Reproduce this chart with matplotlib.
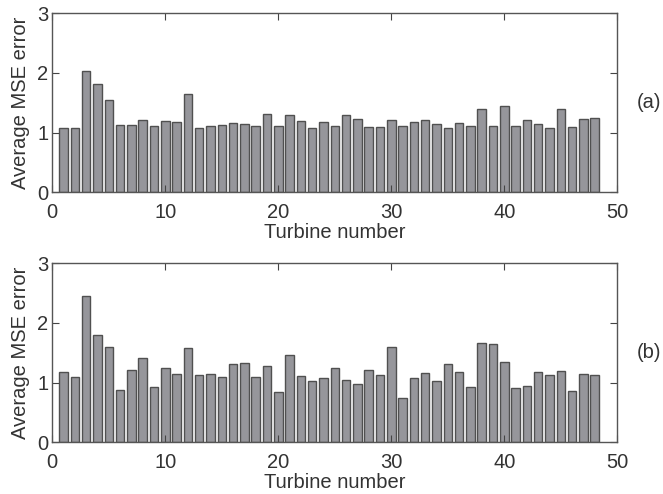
import matplotlib
matplotlib.use('Agg')
import matplotlib.pyplot as plt
import numpy as np

plt.rcParams['font.family'] = ['Liberation Sans', 'DejaVu Sans']
plt.rcParams['font.size'] = 14.5

# turbine numbers
turbines = np.arange(1, 49)

# average MSE error, panel (a)
mse_a = [1.08, 1.07, 2.04, 1.82, 1.54, 1.12, 1.12, 1.22, 1.11, 1.19,
         1.18, 1.65, 1.08, 1.11, 1.12, 1.16, 1.14, 1.11, 1.32, 1.11,
         1.29, 1.20, 1.08, 1.17, 1.11, 1.29, 1.23, 1.09, 1.10, 1.22,
         1.11, 1.17, 1.22, 1.14, 1.08, 1.16, 1.11, 1.40, 1.11, 1.44,
         1.11, 1.21, 1.14, 1.07, 1.39, 1.09, 1.23, 1.24]

# average MSE error, panel (b)
mse_b = [1.17, 1.10, 2.46, 1.80, 1.59, 0.88, 1.22, 1.41, 0.93, 1.25,
         1.15, 1.58, 1.12, 1.15, 1.10, 1.32, 1.33, 1.09, 1.28, 0.85,
         1.46, 1.11, 1.02, 1.07, 1.24, 1.05, 0.97, 1.21, 1.12, 1.60,
         0.75, 1.08, 1.16, 1.02, 1.31, 1.17, 0.92, 1.66, 1.64, 1.35,
         0.91, 0.94, 1.17, 1.13, 1.19, 0.86, 1.15, 1.13]

panels = ['(a)', '(b)']

fig = plt.figure(figsize=(6.63, 4.94), dpi=100)
ax1 = fig.add_axes([52.3/663, 1-192.3/494, 565/663, 179/494])
ax2 = fig.add_axes([52.3/663, 1-442.3/494, 565/663, 179/494])

for ax, vals, lab in zip([ax1, ax2], [mse_a, mse_b], panels):
    ax.bar(turbines, vals, width=0.75, color='#96969b', edgecolor='#505050', lw=1)
    ax.set_xlim(0, 50)
    ax.set_ylim(0, 3)
    ax.set_xticks([0, 10, 20, 30, 40, 50])
    ax.set_yticks([0, 1, 2, 3])
    ax.tick_params(direction='in', top=True, right=True, length=5,
                   color='#444444', labelcolor='#333333')
    ax.tick_params(axis='x', pad=8)
    ax.tick_params(axis='y', pad=3)
    for s in ax.spines.values():
        s.set_color('#555555')
        s.set_linewidth(1)
    ax.set_xlabel('Turbine number', color='#333333', labelpad=0.5)
    ax.set_ylabel('Average MSE error', color='#333333', labelpad=5)
    ax.text(1.035, 0.5, lab, transform=ax.transAxes, ha='left', va='center',
            color='#333333')

fig.savefig('out.png', dpi=100)
